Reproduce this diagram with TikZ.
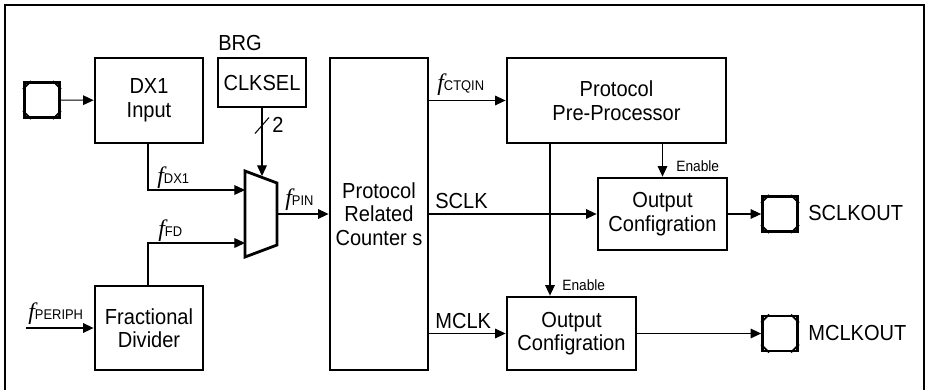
\documentclass[tikz,border=0pt]{standalone}
\usepackage{fontspec}
\setmainfont{Liberation Sans}[FakeStretch=0.92]
\newfontfamily\ffont{Liberation Serif}
\usetikzlibrary{arrows.meta}
\newcommand\fsig[1]{{\ffont\itshape\fontsize{13.5}{13.5}\selectfont f}{\fontsize{8}{8}\selectfont #1}}
\tikzset{
	box/.style 2 args={draw,line width=1.6pt,minimum width=#1*0.02cm,minimum height=#2*0.02cm,
		inner sep=0pt,align=center,font=\fontsize{12.4}{13.4}\selectfont},
	pad/.style={draw,line width=1.6pt,minimum size=0.7cm,inner sep=0pt},
	sig/.style={line width=0.6pt,-{Triangle[length=6pt,width=5.5pt]}},
	lbl/.style={inner sep=0pt,font=\fontsize{12.4}{13.4}\selectfont},
	small/.style={inner sep=0pt,font=\fontsize{8.5}{9}\selectfont}
}
\begin{document}
\begin{tikzpicture}[x=0.02cm,y=-0.02cm]
	% frame
	\clip (0,0) rectangle (926,389);
	\draw[line width=1.1pt] (5,395) -- (5,5) -- (924,5) -- (924,395);
	% blocks
	\node[box={108}{85}] (dx) at (149,100.5) {DX1\\Input};
	\node[box={88}{49}] (clksel) at (262,82.5) {CLKSEL};
	\node[box={108}{84}] (frac) at (149,328) {Fractional\\Divider};
	\node[box={98}{312}] (prc) at (379,214) {Protocol\\Related\\Counter s};
	\node[box={219}{85}] (ppp) at (616.5,100.5) {Protocol\\Pre-Processor};
	\node[box={129}{72}] (oc1) at (662.5,214) {Output\\Configration};
	\node[box={129}{73}] (oc2) at (571.5,333.5) {Output\\Configration};
	% pads
	\node[pad] (padin) at (42,100) {};
	\node[pad] (padS) at (780,214) {};
	\node[pad] (padM) at (780,333.5) {};
	\foreach \p in {padin,padS,padM}{
		\draw[line width=1pt] ([shift={(0,8)}]\p.north west) -- ([shift={(8,0)}]\p.north west);
		\draw[line width=1pt] ([shift={(0,8)}]\p.north east) -- ([shift={(-8,0)}]\p.north east);
		\draw[line width=1pt] ([shift={(0,-8)}]\p.south west) -- ([shift={(8,0)}]\p.south west);
		\draw[line width=1pt] ([shift={(0,-8)}]\p.south east) -- ([shift={(-8,0)}]\p.south east);
	}
	% mux
	\draw[line width=1.6pt] (245,171) -- (277,183) -- (277,245) -- (245,257) -- cycle;
	\coordinate (muxa) at (245,190);
	\coordinate (muxb) at (245,243);
	\coordinate (muxsel) at (262,176);
	\coordinate (muxout) at (277,214);
	\coordinate (periph) at (26,328);
	\coordinate (bus) at (262,125.5);
	% arrows
	\draw[sig] (padin) -- (dx);
	\draw[sig] (dx.south -| 148,0) |- (muxa);
	\draw[sig] (frac.north -| 148,0) |- (muxb);
	\draw[sig] (periph) -- (frac.west |- periph);
	\draw[sig] (clksel.south) -- (muxsel);
	\draw[line width=0.6pt] (bus) ++(-7,8) -- ++(14,-16);
	\draw[sig] (muxout) -- (prc.west |- muxout);
	\draw[sig] (prc.east |- ppp) -- (ppp);
	\draw[sig] (prc.east |- oc1) -- (oc1);
	\draw[sig] (prc.east |- oc2) -- (oc2);
	\draw[sig] (ppp.south -| oc1) -- (oc1);
	\draw[sig] (ppp.south -| 550,0) -- (oc2.north -| 550,0);
	\draw[sig] (oc1) -- (padS);
	\draw[sig] (oc2) -- (padM);
	% labels
	\node[lbl,anchor=base west] (brg) at (218,50) {BRG};
	\node[lbl,anchor=base west] (two) at (272,132) {2};
	\node[lbl,anchor=base west] (fdx) at (157,183) {\fsig{DX1}};
	\node[lbl,anchor=base west] (ffd) at (158,236) {\fsig{FD}};
	\node[lbl,anchor=base west] (fper) at (28,319) {\fsig{PERIPH}};
	\node[lbl,anchor=base west] (fpin) at (285,205) {\fsig{PIN}};
	\node[lbl,anchor=base west] (fctq) at (437,90) {\fsig{CTQIN}};
	\node[lbl,anchor=base west] (lsclk) at (435,208) {SCLK};
	\node[lbl,anchor=base west] (lmclk) at (435,328) {MCLK};
	\node[small,anchor=base west] (en1) at (676,171) {Enable};
	\node[small,anchor=base west] (en2) at (562,290) {Enable};
	\node[lbl,anchor=base west] (sout) at (808,220) {SCLKOUT};
	\node[lbl,anchor=base west] (mout) at (808,340) {MCLKOUT};
\end{tikzpicture}
\end{document}
